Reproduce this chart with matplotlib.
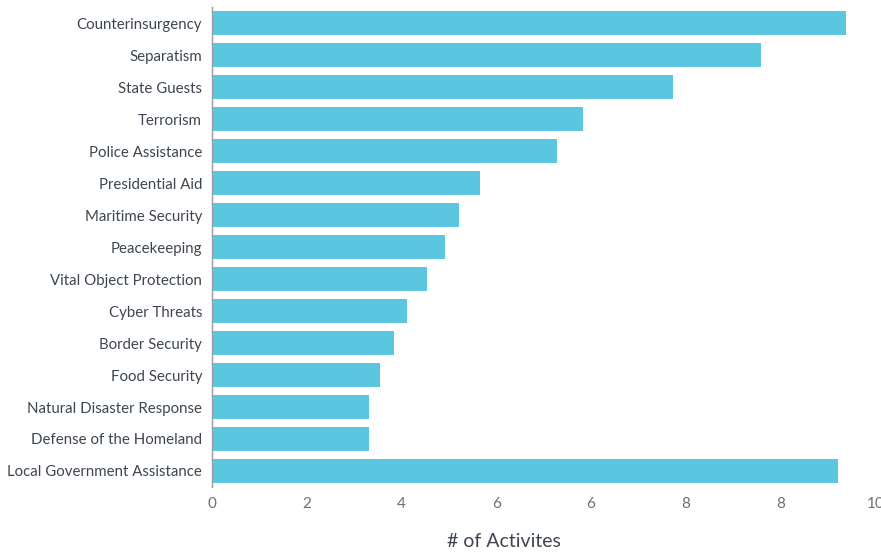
import numpy as np
import matplotlib
matplotlib.use("Agg")
import matplotlib.pyplot as plt

categories = ["Counterinsurgency", "Separatism", "State Guests", "Terrorism",
              "Police Assistance", "Presidential Aid", "Maritime Security",
              "Peacekeeping", "Vital Object Protection", "Cyber Threats",
              "Border Security", "Food Security", "Natural Disaster Response",
              "Defense of the Homeland", "Local Government Assistance"]
activities = [9.55, 8.27, 6.95, 5.60, 5.20, 4.04, 3.73, 3.51, 3.24, 2.94,
              2.75, 2.53, 2.37, 2.37, 9.44]
tick_labels = ["0", "2", "4", "6", "6", "8", "8", "10"]

plt.rcParams['font.family'] = ['Lato', 'DejaVu Sans']

fig = plt.figure(figsize=(8.81, 5.54), dpi=100)
ax = fig.add_axes([0.2406, 0.121, 0.753, 0.866])

y = np.arange(len(categories))
ax.barh(y, activities, height=0.75, color="#5bc6e0", edgecolor="none")
ax.set_ylim(len(categories) - 0.5, -0.5)
ax.set_xlim(0, 10)

ax.set_yticks(y)
ax.set_yticklabels(categories, fontsize=10.8, color="#3d4650")
ax.tick_params(axis="y", length=0, pad=7)

ax.set_xticks(np.linspace(0, 10, len(tick_labels)))
ax.set_xticklabels(tick_labels, fontsize=11, color="#6b7075")
ax.tick_params(axis="x", length=0, pad=7)

for s in ["top", "right", "bottom"]:
    ax.spines[s].set_visible(False)
ax.spines["left"].set_color("#9a9a9a")
ax.spines["left"].set_linewidth(1)

ax.set_xlabel("# of Activites", fontsize=14, color="#3d4650", labelpad=12)
ax.xaxis.set_label_coords(0.44, -0.095)

fig.savefig("out.png", dpi=100)
